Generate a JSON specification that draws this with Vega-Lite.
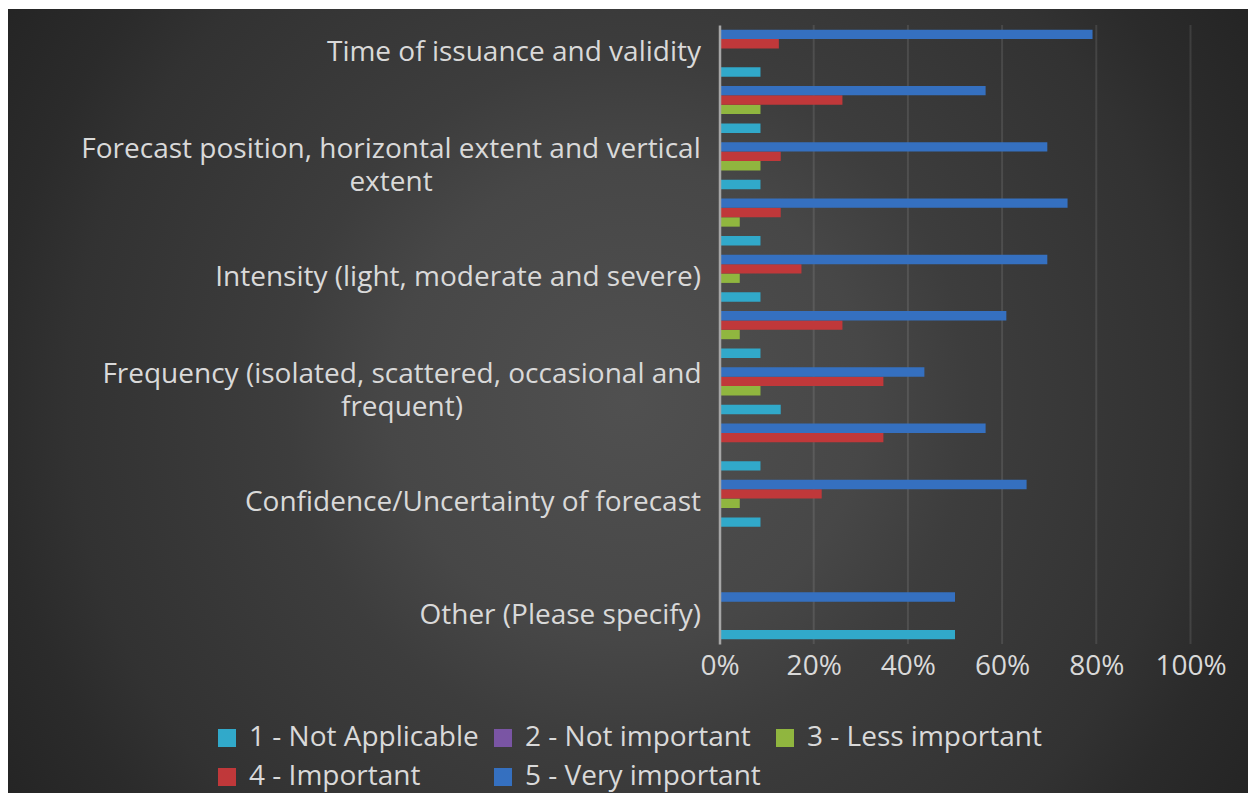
{
  "$schema": "https://vega.github.io/schema/vega-lite/v6.json",
  "width": 1240,
  "height": 784,
  "autosize": {"type": "none"},
  "padding": {"left": 8, "top": 9, "right": 0, "bottom": 0},
  "background": "#ffffff",
  "config": {
    "font": "Open Sans",
    "view": {
      "stroke": null,
      "fill": {
        "gradient": "radial",
        "x1": 0.5, "y1": 0.5, "r1": 0,
        "x2": 0.5, "y2": 0.5, "r2": 0.6,
        "stops": [
          {"offset": 0, "color": "#505050"},
          {"offset": 0.32, "color": "#474747"},
          {"offset": 0.46, "color": "#3d3d3d"},
          {"offset": 0.75, "color": "#323232"},
          {"offset": 0.85, "color": "#2b2b2b"},
          {"offset": 1, "color": "#242424"}
        ]
      }
    }
  },
  "datasets": {
    "grid": [{"g": 0.2}, {"g": 0.4}, {"g": 0.6}, {"g": 0.8}, {"g": 1.0}],
    "survey": [
      {"category": "Time of issuance and validity", "series": "1 - Not Applicable", "value": 0.087},
      {"category": "Time of issuance and validity", "series": "2 - Not important", "value": 0},
      {"category": "Time of issuance and validity", "series": "3 - Less important", "value": 0},
      {"category": "Time of issuance and validity", "series": "4 - Important", "value": 0.126},
      {"category": "Time of issuance and validity", "series": "5 - Very important", "value": 0.792},
      {"category": "Category 2", "series": "1 - Not Applicable", "value": 0.087},
      {"category": "Category 2", "series": "2 - Not important", "value": 0},
      {"category": "Category 2", "series": "3 - Less important", "value": 0.087},
      {"category": "Category 2", "series": "4 - Important", "value": 0.261},
      {"category": "Category 2", "series": "5 - Very important", "value": 0.565},
      {"category": "Forecast position, horizontal extent and vertical extent", "series": "1 - Not Applicable", "value": 0.087},
      {"category": "Forecast position, horizontal extent and vertical extent", "series": "2 - Not important", "value": 0},
      {"category": "Forecast position, horizontal extent and vertical extent", "series": "3 - Less important", "value": 0.087},
      {"category": "Forecast position, horizontal extent and vertical extent", "series": "4 - Important", "value": 0.130},
      {"category": "Forecast position, horizontal extent and vertical extent", "series": "5 - Very important", "value": 0.696},
      {"category": "Category 4", "series": "1 - Not Applicable", "value": 0.087},
      {"category": "Category 4", "series": "2 - Not important", "value": 0},
      {"category": "Category 4", "series": "3 - Less important", "value": 0.043},
      {"category": "Category 4", "series": "4 - Important", "value": 0.130},
      {"category": "Category 4", "series": "5 - Very important", "value": 0.739},
      {"category": "Intensity (light, moderate and severe)", "series": "1 - Not Applicable", "value": 0.087},
      {"category": "Intensity (light, moderate and severe)", "series": "2 - Not important", "value": 0},
      {"category": "Intensity (light, moderate and severe)", "series": "3 - Less important", "value": 0.043},
      {"category": "Intensity (light, moderate and severe)", "series": "4 - Important", "value": 0.174},
      {"category": "Intensity (light, moderate and severe)", "series": "5 - Very important", "value": 0.696},
      {"category": "Category 6", "series": "1 - Not Applicable", "value": 0.087},
      {"category": "Category 6", "series": "2 - Not important", "value": 0},
      {"category": "Category 6", "series": "3 - Less important", "value": 0.043},
      {"category": "Category 6", "series": "4 - Important", "value": 0.261},
      {"category": "Category 6", "series": "5 - Very important", "value": 0.609},
      {"category": "Frequency (isolated, scattered, occasional and frequent)", "series": "1 - Not Applicable", "value": 0.130},
      {"category": "Frequency (isolated, scattered, occasional and frequent)", "series": "2 - Not important", "value": 0},
      {"category": "Frequency (isolated, scattered, occasional and frequent)", "series": "3 - Less important", "value": 0.087},
      {"category": "Frequency (isolated, scattered, occasional and frequent)", "series": "4 - Important", "value": 0.348},
      {"category": "Frequency (isolated, scattered, occasional and frequent)", "series": "5 - Very important", "value": 0.435},
      {"category": "Category 8", "series": "1 - Not Applicable", "value": 0.087},
      {"category": "Category 8", "series": "2 - Not important", "value": 0},
      {"category": "Category 8", "series": "3 - Less important", "value": 0},
      {"category": "Category 8", "series": "4 - Important", "value": 0.348},
      {"category": "Category 8", "series": "5 - Very important", "value": 0.565},
      {"category": "Confidence/Uncertainty of forecast", "series": "1 - Not Applicable", "value": 0.087},
      {"category": "Confidence/Uncertainty of forecast", "series": "2 - Not important", "value": 0},
      {"category": "Confidence/Uncertainty of forecast", "series": "3 - Less important", "value": 0.043},
      {"category": "Confidence/Uncertainty of forecast", "series": "4 - Important", "value": 0.217},
      {"category": "Confidence/Uncertainty of forecast", "series": "5 - Very important", "value": 0.652},
      {"category": "Category 10", "series": "1 - Not Applicable", "value": 0},
      {"category": "Category 10", "series": "2 - Not important", "value": 0},
      {"category": "Category 10", "series": "3 - Less important", "value": 0},
      {"category": "Category 10", "series": "4 - Important", "value": 0},
      {"category": "Category 10", "series": "5 - Very important", "value": 0},
      {"category": "Other (Please specify)", "series": "1 - Not Applicable", "value": 0.5},
      {"category": "Other (Please specify)", "series": "2 - Not important", "value": 0},
      {"category": "Other (Please specify)", "series": "3 - Less important", "value": 0},
      {"category": "Other (Please specify)", "series": "4 - Important", "value": 0},
      {"category": "Other (Please specify)", "series": "5 - Very important", "value": 0.5}
    ]
  },
  "resolve": {"scale": {"y": "independent"}},
  "layer": [
    {
      "data": {"name": "grid"},
      "mark": {"type": "rule", "color": "#ffffff", "opacity": 0.1, "strokeWidth": 2},
      "encoding": {
        "x": {"field": "g", "type": "quantitative", "scale": {"domain": [0, 1], "range": [711.5, 1182.5], "nice": false, "zero": false}},
        "y": {"datum": 0, "type": "quantitative", "scale": {"domain": [0, 1], "range": [16, 635], "nice": false, "zero": false}, "axis": null},
        "y2": {"datum": 1}
      }
    },
    {
      "data": {"name": "survey"},
      "mark": {"type": "bar"},
      "encoding": {
        "y": {
          "field": "category",
          "type": "nominal",
          "sort": null,
          "scale": {"range": [16, 635], "paddingInner": 0.165, "paddingOuter": 0.0825},
          "axis": {
            "title": null,
            "orient": "left",
            "offset": -711.5,
            "zindex": 1,
            "domain": true,
            "domainColor": "#a6a6a6",
            "domainWidth": 2.5,
            "ticks": false,
            "grid": false,
            "labelFont": "Open Sans",
            "labelFontSize": 28,
            "labelColor": "#d9d9d9",
            "labelLimit": 900,
            "labelOverlap": false,
            "labelLineHeight": 33,
            "labelBaseline": "middle",
            "labelAlign": {"condition": {"test": "datum.value == 'Forecast position, horizontal extent and vertical extent' || datum.value == 'Frequency (isolated, scattered, occasional and frequent)'", "value": "center"}, "value": "right"},
            "labelOffset": {"condition": {"test": "datum.value == 'Forecast position, horizontal extent and vertical extent' || datum.value == 'Frequency (isolated, scattered, occasional and frequent)'", "value": -16}, "value": 0},
            "labelPadding": {"condition": [
              {"test": "datum.value == 'Forecast position, horizontal extent and vertical extent'", "value": 329},
              {"test": "datum.value == 'Frequency (isolated, scattered, occasional and frequent)'", "value": 318}
            ], "value": 19},
            "labelExpr": "datum.value == 'Forecast position, horizontal extent and vertical extent' ? ['Forecast position, horizontal extent and vertical', 'extent'] : datum.value == 'Frequency (isolated, scattered, occasional and frequent)' ? ['Frequency (isolated, scattered, occasional and', 'frequent)'] : indexof(datum.value, 'Category ') == 0 ? '' : datum.value"
          }
        },
        "yOffset": {
          "field": "series",
          "type": "nominal",
          "sort": "descending",
          "scale": {"paddingInner": 0, "paddingOuter": 0}
        },
        "x": {
          "field": "value",
          "type": "quantitative",
          "scale": {"domain": [0, 1], "range": [711.5, 1182.5], "nice": false, "zero": false},
          "axis": {
            "title": null,
            "values": [0, 0.2, 0.4, 0.6, 0.8, 1],
            "format": ".0%",
            "orient": "bottom",
            "offset": -149,
            "grid": false,
            "domain": false,
            "ticks": false,
            "labelFlush": false,
            "labelFont": "Open Sans",
            "labelFontSize": 28,
            "labelColor": "#d9d9d9",
            "labelPadding": 8
          }
        },
        "x2": {"datum": 0},
        "color": {
          "field": "series",
          "type": "nominal",
          "scale": {
            "domain": ["1 - Not Applicable", "2 - Not important", "3 - Less important", "4 - Important", "5 - Very important"],
            "range": ["#31a9ca", "#7a55a4", "#90b63f", "#c0383a", "#3570c0"]
          },
          "legend": {
            "title": null,
            "orient": "none",
            "direction": "horizontal",
            "legendX": 205,
            "legendY": 715,
            "columns": 3,
            "symbolType": "square",
            "symbolSize": 324,
            "symbolStrokeWidth": 0,
            "labelFont": "Open Sans",
            "labelFontSize": 28,
            "labelColor": "#d9d9d9",
            "labelOffset": 8,
            "labelLimit": 0,
            "columnPadding": 10,
            "rowPadding": 11,
            "padding": 0
          }
        }
      }
    }
  ]
}
